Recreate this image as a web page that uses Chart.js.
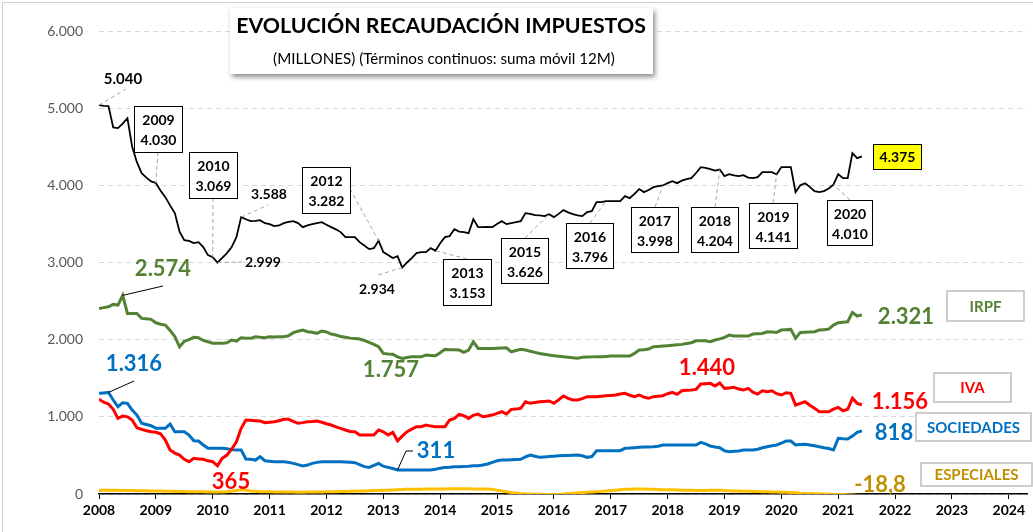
<!DOCTYPE html>
<html><head><meta charset="utf-8">
<script src="https://cdn.jsdelivr.net/npm/chart.js@4.4.0/dist/chart.umd.min.js"></script>
<style>html,body{margin:0;padding:0;background:#fff;}canvas{display:block;}</style>
</head><body>
<canvas id="c" width="1033" height="532"></canvas>
<script>
// ---- DATA (monthly, 12-month rolling sums, millions) Jan 2008 .. Jun 2021 ----
const START_YEAR = 2008;
const YEAR_TICKS = [2008,2009,2010,2011,2012,2013,2014,2015,2016,2017,2018,2019,2020,2021,2022,2023,2024];
const TOTAL = [5040,5030,5026,4750,4741,4800,4870,4500,4300,4158,4100,4050,
4030,3930,3847,3740,3640,3400,3290,3280,3251,3264,3200,3096,
3069,2999,3060,3122,3200,3329,3588,3560,3536,3540,3549,3510,
3497,3471,3480,3510,3525,3536,3510,3458,3480,3497,3510,3523,
3490,3458,3430,3394,3329,3330,3329,3264,3220,3173,3186,3282,
3135,3096,3057,3083,2934,3000,3057,3122,3135,3135,3186,3153,
3250,3329,3342,3433,3400,3394,3381,3562,3458,3458,3460,3458,
3500,3536,3497,3510,3523,3536,3640,3630,3614,3610,3601,3626,
3588,3630,3679,3650,3627,3610,3601,3653,3666,3782,3782,3796,
3795,3795,3795,3860,3834,3890,3951,3912,3940,3977,3990,3998,
4028,4054,4028,4060,4080,4093,4160,4236,4225,4210,4190,4204,
4119,4145,4130,4119,4132,4100,4093,4106,4171,4171,4171,4141,
4236,4236,4236,3912,4000,4028,3980,3925,3912,3925,3960,4010,
4145,4093,4093,4417,4352,4375];
const IRPF = [2405,2415,2426,2457,2448,2574,2340,2340,2340,2276,2270,2263,
2219,2200,2189,2120,2040,1908,1980,2000,2030,2025,1990,1973,
1955,1952,1952,1960,1995,1982,2025,2020,2017,2038,2030,2025,
2038,2035,2038,2038,2050,2090,2110,2124,2103,2095,2081,2111,
2100,2073,2060,2040,2030,2020,2015,2008,1990,1965,1940,1908,
1822,1815,1810,1778,1757,1770,1778,1778,1778,1800,1795,1791,
1830,1874,1870,1868,1865,1835,1865,1973,1887,1887,1887,1887,
1890,1892,1895,1843,1860,1874,1865,1850,1835,1820,1810,1800,
1792,1785,1778,1772,1765,1760,1772,1775,1777,1778,1780,1783,
1787,1787,1787,1787,1787,1822,1865,1870,1878,1908,1912,1917,
1922,1928,1934,1939,1950,1960,1986,1986,1986,1973,1995,2010,
2030,2060,2047,2047,2047,2047,2073,2078,2081,2103,2100,2094,
2124,2128,2133,2017,2094,2097,2100,2103,2124,2130,2137,2189,
2219,2225,2232,2353,2306,2321];
const IVA = [1227,1190,1166,1097,980,1010,1000,959,859,838,820,807,
799,780,699,570,530,505,450,419,462,455,449,430,
419,365,462,505,580,677,851,959,955,950,946,924,
930,937,950,968,968,940,916,925,937,940,946,930,
910,894,870,850,829,810,807,764,764,764,764,829,
807,764,799,690,750,807,840,872,872,894,880,872,
872,872,959,980,1032,1014,980,1020,1036,1001,1010,1023,
1045,1066,1036,1097,1100,1110,1196,1175,1185,1196,1200,1205,
1175,1220,1270,1240,1218,1218,1235,1261,1261,1261,1268,1274,
1278,1283,1296,1304,1280,1261,1283,1255,1240,1261,1268,1274,
1300,1317,1291,1338,1345,1347,1356,1425,1430,1434,1399,1440,
1369,1375,1382,1360,1347,1369,1320,1295,1338,1325,1338,1300,
1283,1313,1304,1153,1175,1196,1150,1110,1066,1066,1066,1100,
1123,1079,1097,1240,1175,1156];
const SOCIEDADES = [1304,1310,1316,1218,1131,1183,1175,1088,1023,916,900,885,
851,851,851,907,807,807,807,764,690,686,635,592,
592,592,592,585,575,570,570,453,450,440,483,431,
425,419,419,419,410,397,380,363,375,397,410,419,
419,419,419,419,415,410,406,380,355,345,370,397,
360,345,330,311,311,311,311,311,311,311,311,320,
335,345,348,354,354,357,360,365,365,375,389,410,
430,440,442,444,446,449,480,505,490,475,480,485,
490,496,498,500,502,505,495,475,485,561,561,561,
561,561,561,592,595,600,605,608,610,613,620,635,
635,635,635,635,635,635,635,669,650,622,610,600,
560,548,555,557,570,570,570,580,600,613,625,635,
660,686,686,635,640,644,635,625,613,600,590,570,
721,715,712,750,800,818];
const ESPECIALES = [45,48,50,50,48,45,45,44,43,42,42,40,
40,38,36,35,34,33,32,30,30,28,28,26,
26,25,25,28,35,45,55,50,40,35,30,28,
28,27,26,26,25,25,24,24,25,26,26,27,
28,30,30,32,34,35,36,38,40,42,44,46,
48,50,52,55,58,60,62,62,63,64,65,65,
66,66,67,68,68,68,67,66,65,65,64,60,
50,40,30,20,12,6,2,0,-2,-4,-5,-5,
-5,-3,0,5,10,14,18,22,26,30,34,40,
45,50,55,60,62,64,65,64,62,60,58,56,
55,54,52,50,50,48,46,45,45,48,50,48,
45,42,40,38,36,35,33,32,30,28,26,25,
24,22,20,15,10,8,6,4,2,0,-2,-4,
-6,-8,-10,-13,-16,-18.8];
// year-end call-outs on the total line
const CALLOUT_YEARS  = ['2009','2010','2012','2013','2015','2016','2017','2018','2019','2020'];
const CALLOUT_MONTHS = [12,24,59,71,95,107,119,131,143,155];
const SERIES_NAMES = ['IRPF','IVA','SOCIEDADES','ESPECIALES'];
const TITLE = 'EVOLUCIÓN RECAUDACIÓN IMPUESTOS';
const SUBTITLE = '(MILLONES) (Términos continuos: suma móvil 12M)';

// ---- helpers ----
const FONT = 'Lato, "Open Sans", sans-serif';
const C_GREEN = '#548235', C_RED = '#FF0000', C_BLUE = '#0070C0', C_GOLD_LINE = '#FFC000', C_GOLD_TXT = '#BF9000';
function fmt(v){
  const neg = v < 0; v = Math.abs(v);
  let [i, d] = String(v).split('.');
  i = i.replace(/\B(?=(\d{3})+(?!\d))/g, '.');
  return (neg ? '-' : '') + i + (d ? ',' + d : '');
}
const toPts = arr => arr.map((v, i) => ({x: START_YEAR + i / 12, y: v}));
const last = arr => arr[arr.length - 1];

const annot = {
  id: 'annot',
  afterDatasetsDraw(chart){
    const {ctx, scales:{x, y}} = chart;
    const X = m => x.getPixelForValue(START_YEAR + m / 12);
    const Y = v => y.getPixelForValue(v);
    ctx.save();
    ctx.textAlign = 'center'; ctx.textBaseline = 'middle';
    const line = (pts, color, dash, w) => {
      ctx.beginPath(); ctx.strokeStyle = color; ctx.lineWidth = w || 1;
      ctx.setLineDash(dash || []);
      pts.forEach((p, i) => i ? ctx.lineTo(p[0], p[1]) : ctx.moveTo(p[0], p[1]));
      ctx.stroke(); ctx.setLineDash([]);
    };
    const text = (t, cx, cy, size, color, weight) => {
      ctx.font = (weight || 'bold') + ' ' + size + 'px ' + FONT;
      ctx.fillStyle = color; ctx.fillText(t, cx, cy);
    };
    const DASH = [4, 3], LG = '#A6A6A6';

    // plain black labels on the total line
    line([[X(0), Y(TOTAL[0])], [126, 89]], LG, DASH);
    text(fmt(TOTAL[0]), 123, 79, 15, '#000');
    line([[X(30), Y(TOTAL[30])], [268, 205]], LG, DASH);
    text(fmt(TOTAL[30]), 269, 194, 14, '#000');
    line([[X(25), Y(TOTAL[25])], [242, 262]], LG, DASH);
    text(fmt(TOTAL[25]), 263, 262, 14, '#000');
    line([[X(64), Y(TOTAL[64])], [378, 275]], LG, DASH);
    text(fmt(TOTAL[64]), 377, 289, 14, '#000');

    // boxed year call-outs: [left, top, width, height, leader start x, leader start y]
    const boxes = [
      [134,106,48,46, 158,152],
      [189,152,48,46, 213,198],
      [302,167,48,46, 350,189],
      [443,259,48,46, 467,259],
      [501,238,47,45, 525,238],
      [566,223,47,45, 590,223],
      [631,207,47,45, 655,207],
      [691,207,47,45, 715,207],
      [749,203,48,45, 773,203],
      [827,200,45,45, 850,200]
    ];
    boxes.forEach((b, i) => {
      const m = CALLOUT_MONTHS[i];
      line([[b[4], b[5]], [X(m), Y(TOTAL[m])]], LG, DASH);
      ctx.fillStyle = '#fff'; ctx.fillRect(b[0], b[1], b[2], b[3]);
      ctx.strokeStyle = '#000'; ctx.lineWidth = 1; ctx.strokeRect(b[0] + 0.5, b[1] + 0.5, b[2], b[3]);
      text(CALLOUT_YEARS[i], b[0] + b[2] / 2 + 0.5, b[1] + 14, 14, '#000');
      text(fmt(TOTAL[m]), b[0] + b[2] / 2 + 0.5, b[1] + 34, 14, '#000');
    });
    // latest total value, yellow
    ctx.fillStyle = '#FFFF00'; ctx.fillRect(873, 144, 48, 25);
    ctx.strokeStyle = '#000'; ctx.lineWidth = 1; ctx.strokeRect(873.5, 144.5, 48, 25);
    text(fmt(last(TOTAL)), 897.5, 157, 14, '#000');

    // coloured extreme labels
    line([[X(5), Y(IRPF[5])], [163, 286]], '#000', [], 1);
    text(fmt(IRPF[5]), 163, 269, 22, C_GREEN);
    line([[X(2), Y(SOCIEDADES[2])], [134, 381]], '#000', [], 1);
    text(fmt(SOCIEDADES[2]), 134, 364, 22, C_BLUE);
    text(fmt(IRPF[64]), 391, 370, 22, C_GREEN);
    line([[X(63), Y(SOCIEDADES[63])], [406, 451], [413, 451]], '#000', [], 1);
    text(fmt(SOCIEDADES[63]), 436, 451, 22, C_BLUE);
    text(fmt(IVA[25]), 231, 482, 22, C_RED);
    text(fmt(IVA[131]), 707, 368, 22, C_RED);

    // end values
    text(fmt(last(IRPF)), 906, 317, 22, C_GREEN);
    text(fmt(last(IVA)), 900, 402, 22, C_RED);
    text(fmt(last(SOCIEDADES)), 894, 433, 22, C_BLUE);
    text(fmt(last(ESPECIALES)), 880, 485, 22, C_GOLD_TXT);

    // series name boxes
    const legend = [
      [947,291,77,30, C_GREEN],
      [934,373,77,29, C_RED],
      [916,413,115,28, C_BLUE],
      [921,463,111,23, C_GOLD_TXT]
    ];
    legend.forEach((l, i) => {
      ctx.fillStyle = '#fff'; ctx.fillRect(l[0], l[1], l[2], l[3]);
      ctx.strokeStyle = '#BFBFBF'; ctx.lineWidth = 1.5; ctx.strokeRect(l[0], l[1], l[2], l[3]);
      text(SERIES_NAMES[i], l[0] + l[2] / 2, l[1] + l[3] / 2 + 1, 15, l[4]);
    });

    // title box
    ctx.save();
    ctx.shadowColor = 'rgba(0,0,0,0.45)'; ctx.shadowBlur = 5; ctx.shadowOffsetX = 2; ctx.shadowOffsetY = 3;
    ctx.fillStyle = '#fff'; ctx.fillRect(230, 8, 423, 66);
    ctx.restore();
    const fit = (t, w, maxSize, weight) => {
      ctx.font = weight + ' ' + maxSize + 'px ' + FONT;
      const mw = ctx.measureText(t).width;
      return Math.min(maxSize, maxSize * w / mw);
    };
    const ts = fit(TITLE, 410, 30, 'bold');
    text(TITLE, 441, 26, ts, '#000', 'bold');
    const ss = fit(SUBTITLE, 342, 16, 'normal');
    text(SUBTITLE, 444, 59, ss, '#000', 'normal');

    // outer frame (left/top)
    line([[2.5, 532], [2.5, 2.5], [1033, 2.5]], '#D0D0D0', [], 1);
    ctx.restore();
  }
};

const ds = (label, arr, color, w) => ({
  label, data: toPts(arr), borderColor: color, backgroundColor: color,
  borderWidth: w, pointRadius: 0, tension: 0, fill: false
});

new Chart(document.getElementById('c'), {
  type: 'line',
  data: { datasets: [
    ds('TOTAL', TOTAL, '#000000', 1.8),
    ds('IRPF', IRPF, C_GREEN, 3),
    ds('IVA', IVA, C_RED, 3),
    ds('SOCIEDADES', SOCIEDADES, C_BLUE, 3),
    ds('ESPECIALES', ESPECIALES, C_GOLD_LINE, 3)
  ]},
  options: {
    responsive: false, animation: false,
    layout: { padding: { top: 31, right: 6, left: 0, bottom: 0 } },
    plugins: { legend: { display: false }, tooltip: { enabled: false } },
    scales: {
      x: {
        type: 'linear', min: 2008, max: 2024.32,
        afterBuildTicks: s => { s.ticks = YEAR_TICKS.map(v => ({value: v})); },
        afterFit: s => { s.height = 38; },
        ticks: { autoSkip: false, maxRotation: 0, padding: 3, color: '#000',
                 font: { family: FONT, size: 14, weight: 'bold' }, callback: v => String(v) },
        grid: { drawOnChartArea: false, drawTicks: true, tickLength: 5, color: '#000', lineWidth: 1 },
        border: { display: true, color: '#000', width: 1.5 }
      },
      y: {
        min: 0, max: 6000,
        afterFit: s => { s.width = 99; },
        ticks: { stepSize: 1000, padding: 16, color: '#595959',
                 font: { family: FONT, size: 14 }, callback: v => fmt(v) },
        grid: { color: '#D9D9D9', lineWidth: 1, drawTicks: false },
        border: { display: false, dash: [5, 4] }
      }
    }
  },
  plugins: [annot]
});
</script>
</body></html>
